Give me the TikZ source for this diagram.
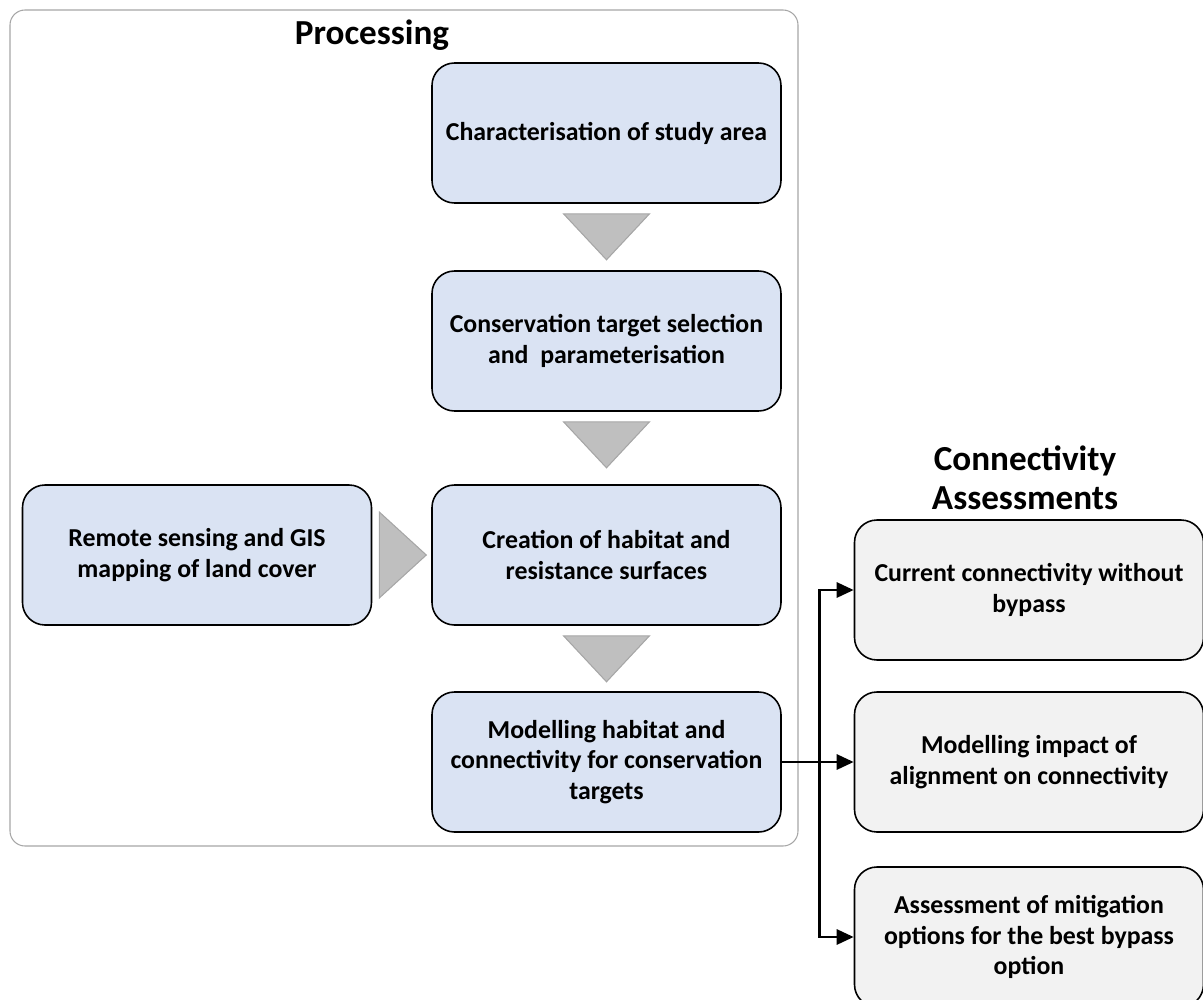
\documentclass[tikz,border=0pt]{standalone}
\usepackage{fontspec}
\setmainfont{Carlito}
\usepackage{xcolor}
\usetikzlibrary{positioning,calc,arrows.meta}
\definecolor{stepBlue}{HTML}{DAE3F3}
\definecolor{stepGray}{HTML}{F2F2F2}
\definecolor{triFill}{HTML}{BFBFBF}
\definecolor{triDraw}{HTML}{A6A6A6}
\tikzset{%
  stepbox/.style={rectangle, rounded corners=0.45cm, draw=black, fill=stepBlue, line width=0.9pt, minimum width=6.98cm, minimum height=2.8cm, align=center, font=\fontsize{14.7}{17.5}\selectfont\bfseries},% processing step
  resultbox/.style={stepbox, fill=stepGray},% assessment
  panel/.style={rectangle, rounded corners=0.3cm, draw=gray!70, line width=0.6pt},
  heading/.style={align=center, font=\fontsize{20}{22}\selectfont\bfseries},
  flowtri/.style={fill=triFill, draw=triDraw, line width=0.6pt},
  link/.style={line width=1.6pt, -{Triangle[length=0.34cm,width=0.3cm]}}
}

\begin{document}
\begin{tikzpicture}
        \useasboundingbox (0,0) rectangle (24.06,-20);
        %Panel
        \draw[panel] (0.2,-0.2) rectangle (15.96,-16.92);
        \node[heading] (proc_t) at (7.44,-0.7) {Processing};
        \node[heading] (conn_t) at (20.5,-9.55) {Connectivity\\Assessments};

        %Nodes
        \node[stepbox] (study) at (12.13,-2.66) {Characterisation of study area};
        \node[stepbox] (target) at (12.13,-6.82) {Conservation target selection\\and \ parameterisation};
        \node[stepbox] (surface) at (12.13,-11.1) {Creation of habitat and\\resistance surfaces};
        \node[stepbox] (model) at (12.13,-15.24) {Modelling habitat and\\connectivity for conservation\\targets};
        \node[stepbox] (remote) at (3.94,-11.1) {Remote sensing and GIS\\mapping of land cover};

        \node[resultbox] (current) at (20.58,-11.8) {Current connectivity without\\bypass};
        \node[resultbox] (impact) at (20.58,-15.24) {Modelling impact of\\alignment on connectivity};
        \node[resultbox] (mitig) at (20.58,-18.74) {Assessment of mitigation\\options for the best bypass\\option};

        %Triangles
        \foreach \a/\b in {study/target, target/surface, surface/model}{
          \draw[flowtri] ($(\a.south)+(-0.86,-0.2)$) -- ++(1.72,0) -- ($(\a.south)+(0,-1.12)$) -- cycle;
        }
        \draw[flowtri] ($(remote.east)+(0.14,0.86)$) -- ++(0,-1.72) -- ($(remote.east)+(1.08,0)$) -- cycle;

        %Lines
        \coordinate (split) at ($(model.east)+(0.76,0)$);
        \draw[line width=1.6pt] (model.east) -- (split);
        \draw[link] (split) |- (current.west);
        \draw[link] (split) -- (impact.west);
        \draw[link] (split) |- (mitig.west);
\end{tikzpicture}
\end{document}
